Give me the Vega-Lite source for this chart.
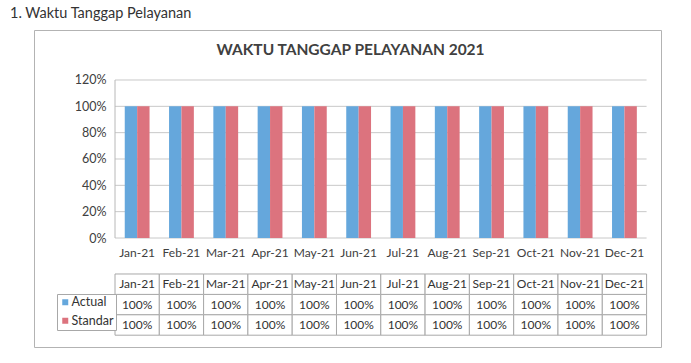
{
  "$schema": "https://vega.github.io/schema/vega-lite/v6.json",
  "width": 627,
  "height": 317,
  "autosize": {"type": "none"},
  "padding": {"left": 34, "top": 30, "right": 30, "bottom": 16},
  "background": "white",
  "config": {
    "font": "Lato",
    "view": {"stroke": "#b3b3b3", "strokeWidth": 1, "fill": "white"}
  },
  "title": {
    "text": "1. Waktu Tanggap Pelayanan",
    "anchor": "start",
    "frame": "group",
    "dx": -24,
    "offset": 9,
    "fontSize": 14.5,
    "fontWeight": "normal",
    "font": "Lato",
    "color": "#333333"
  },
  "datasets": {
    "main": [
      {"month": "Jan-21", "Actual": 1, "Standar": 1},
      {"month": "Feb-21", "Actual": 1, "Standar": 1},
      {"month": "Mar-21", "Actual": 1, "Standar": 1},
      {"month": "Apr-21", "Actual": 1, "Standar": 1},
      {"month": "May-21", "Actual": 1, "Standar": 1},
      {"month": "Jun-21", "Actual": 1, "Standar": 1},
      {"month": "Jul-21", "Actual": 1, "Standar": 1},
      {"month": "Aug-21", "Actual": 1, "Standar": 1},
      {"month": "Sep-21", "Actual": 1, "Standar": 1},
      {"month": "Oct-21", "Actual": 1, "Standar": 1},
      {"month": "Nov-21", "Actual": 1, "Standar": 1},
      {"month": "Dec-21", "Actual": 1, "Standar": 1}
    ],
    "grid": [{"v": 0}, {"v": 0.2}, {"v": 0.4}, {"v": 0.6}, {"v": 0.8}, {"v": 1}, {"v": 1.2}],
    "heading": [{"text": "WAKTU TANGGAP PELAYANAN 2021"}]
  },
  "layer": [
    {
      "layer": [
        {
          "data": {"name": "grid"},
          "mark": {"type": "rule", "color": "#c8c8c8", "strokeWidth": 1},
          "encoding": {
            "x": {"datum": "Jan-21", "type": "nominal", "bandPosition": 0,
                  "scale": {"domain": ["_pad","Jan-21","Feb-21","Mar-21","Apr-21","May-21","Jun-21","Jul-21","Aug-21","Sep-21","Oct-21","Nov-21","Dec-21"], "paddingInner": 0, "paddingOuter": 0.577, "align": 0.718},
                  "axis": null},
            "x2": {"datum": "Dec-21", "bandPosition": 1},
            "y": {"field": "v", "type": "quantitative",
                  "scale": {"domain": [-0.8278, 1.5797], "nice": false, "zero": false},
                  "axis": {"values": [0, 0.2, 0.4, 0.6, 0.8, 1, 1.2], "format": ".0%", "offset": -81, "domain": false, "ticks": false, "grid": false, "labelPadding": 9, "labelFontSize": 12.5, "labelColor": "#404040", "labelFont": "Lato", "title": null}}
          }
        },
        {
          "data": {"name": "heading"},
          "mark": {"type": "rule", "color": "#b8b8b8", "strokeWidth": 1},
          "encoding": {
            "x": {"datum": "Jan-21", "type": "nominal", "bandPosition": 0},
            "y": {"datum": 0, "type": "quantitative"},
            "y2": {"datum": 1.2}
          }
        },
        {
          "data": {"name": "main"},
          "transform": [{"fold": ["Actual", "Standar"], "as": ["series", "value"]}],
          "mark": {"type": "bar"},
          "encoding": {
            "x": {"field": "month", "type": "nominal", "sort": null},
            "xOffset": {"field": "series", "type": "nominal",
                        "scale": {"domain": ["Actual", "Standar"], "paddingInner": 0, "paddingOuter": 0.786}},
            "y": {"field": "value", "type": "quantitative"},
            "color": {"field": "series", "type": "nominal",
                      "scale": {"domain": ["Actual", "Standar"], "range": ["#65a7dc", "#dc737e"]},
                      "legend": {"orient": "none", "legendX": 23, "legendY": 264, "title": null, "symbolType": "square", "symbolSize": 36, "symbolStrokeWidth": 0, "labelFontSize": 12.5, "labelFont": "Lato", "labelColor": "#333333", "labelOffset": 0, "padding": 2, "rowPadding": 5.5, "strokeColor": "#a8a8a8", "fillColor": "white"}}
          }
        },
        {
          "data": {"name": "main"},
          "mark": {"type": "text", "fontSize": 12, "color": "#404040", "baseline": "middle", "dy": 14.5},
          "encoding": {
            "x": {"field": "month", "type": "nominal", "sort": null},
            "y": {"datum": 0, "type": "quantitative"},
            "text": {"field": "month"}
          }
        },
        {
          "data": {"name": "heading"},
          "mark": {"type": "text", "font": "Lato", "fontSize": 15.5, "fontWeight": "bold", "color": "#404040", "baseline": "middle", "dy": -30, "dx": 3},
          "encoding": {
            "x": {"value": {"expr": "width / 2"}},
            "y": {"datum": 1.2, "type": "quantitative"},
            "text": {"field": "text"}
          }
        }
      ]
    },
    {
      "layer": [
        {
          "data": {"name": "main"},
          "transform": [{"fold": ["Actual", "Standar"], "as": ["series", "value"]}],
          "mark": {"type": "rect", "fill": "white", "stroke": "#a8a8a8", "strokeWidth": 1},
          "encoding": {
            "x": {"field": "month", "type": "nominal", "sort": null},
            "y": {"field": "series", "type": "nominal",
                  "scale": {"domain": ["_1","_2","_3","_4","_5","_6","_7","_8","_9","_10","_11","header", "Actual", "Standar"], "paddingInner": 0, "paddingOuter": 0.7696, "align": 0.624},
                  "axis": null}
          }
        },
        {
          "data": {"name": "main"},
          "mark": {"type": "rect", "fill": "white", "stroke": "#a8a8a8", "strokeWidth": 1},
          "encoding": {
            "x": {"field": "month", "type": "nominal", "sort": null},
            "y": {"datum": "header", "type": "nominal"}
          }
        },
        {
          "data": {"name": "main"},
          "transform": [{"fold": ["Actual", "Standar"], "as": ["series", "value"]}],
          "mark": {"type": "text", "fontSize": 12, "color": "#333333", "baseline": "middle"},
          "encoding": {
            "x": {"field": "month", "type": "nominal", "sort": null},
            "y": {"field": "series", "type": "nominal"},
            "text": {"field": "value", "format": ".0%"}
          }
        },
        {
          "data": {"name": "main"},
          "mark": {"type": "text", "fontSize": 12, "color": "#333333", "baseline": "middle"},
          "encoding": {
            "x": {"field": "month", "type": "nominal", "sort": null},
            "y": {"datum": "header", "type": "nominal"},
            "text": {"field": "month"}
          }
        }
      ]
    }
  ],
  "resolve": {"scale": {"y": "independent"}}
}
